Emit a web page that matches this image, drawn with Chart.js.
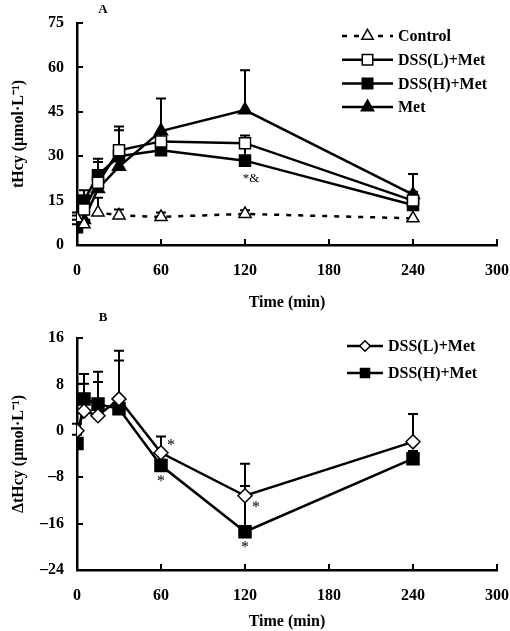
<!DOCTYPE html>
<html>
<head>
<meta charset="utf-8">
<script src="https://cdn.jsdelivr.net/npm/chart.js"></script>
<style>
  html, body { margin: 0; padding: 0; background: #fff; }
  #wrapA { position: absolute; left: 0; top: 0; width: 510px; height: 312px; }
  #wrapB { position: absolute; left: 0; top: 312px; width: 510px; height: 319px; }
</style>
</head>
<body>
<div id="wrapA"><canvas id="chartA" width="510" height="312"></canvas></div>
<div id="wrapB"><canvas id="chartB" width="510" height="319"></canvas></div>
<script>
// sampling times (min)
const times = [0, 5, 15, 30, 60, 120, 240];
const xTicks = [0, 60, 120, 180, 240, 300];

// panel A: tHcy (umol/L), mean and upper SD
const control = [9, 7, 11, 10, 9.5, 10.5, 9];
const controlErr = [1, 1, 5, 2, 1.5, 1.2, 0];
const dssL = [10, 12, 21, 32, 35, 34.4, 15];
const dssLErr = [1, 3, 7, 8, 3, 2.6, 3];
const dssH = [6, 15, 23.6, 30, 32, 28.5, 13.5];
const dssHErr = [1, 3.5, 5.5, 8.8, 2, 5, 4];
const met = [7.5, 8.5, 19, 26.5, 38.5, 45.6, 17];
const metErr = [1, 2, 4, 4, 11, 13.4, 7];
const yTicksA = [0, 15, 30, 45, 60, 75];

// panel B: delta tHcy
const dL = [0, 3.4, 2.6, 5.5, -3.8, -11.2, -1.9];
const dLErr = [1.2, 4.7, 5.8, 8.3, 2.8, 5.5, 4.8];
const dH = [-2.2, 5.5, 4.6, 3.8, -6, -17.4, -4.8];
const dHErr = [1.5, 4.3, 5.6, 8.3, 1, 7.9, 1.3];
const yTicksB = [-24, -16, -8, 0, 8, 16];

const FONT = "'Liberation Serif', 'Times New Roman', serif";
const bold16 = { family: FONT, size: 16, weight: "bold" };

function pts(ys) { return times.map((t, i) => ({ x: t, y: ys[i] })); }

function mkSet(label, ys, errs, style, fill, radius, dash) {
  return {
    label, data: pts(ys), errorBars: errs,
    borderColor: "#000", borderWidth: 2.5, borderDash: dash || [],
    pointStyle: style, pointRadius: radius, pointBackgroundColor: fill,
    pointBorderColor: "#000", pointBorderWidth: 1.5, tension: 0
  };
}

function drawMarker(ctx, style, fill, r, x, y) {
  ctx.save();
  ctx.beginPath();
  if (style === "rect") {
    const s = r * Math.SQRT1_2;
    ctx.rect(x - s, y - s, 2 * s, 2 * s);
  } else if (style === "triangle") {
    const w = r * Math.sqrt(3) / 2;
    ctx.moveTo(x, y - r); ctx.lineTo(x + w, y + r / 2); ctx.lineTo(x - w, y + r / 2); ctx.closePath();
  } else {
    ctx.moveTo(x, y - r); ctx.lineTo(x + r, y); ctx.lineTo(x, y + r); ctx.lineTo(x - r, y); ctx.closePath();
  }
  ctx.fillStyle = fill; ctx.fill();
  ctx.lineWidth = 1.5; ctx.strokeStyle = "#000"; ctx.stroke();
  ctx.restore();
}

const figPlugin = {
  id: "fig",
  beforeDatasetsDraw(chart) {
    const { ctx, chartArea, scales: { x, y } } = chart;
    ctx.save();
    ctx.strokeStyle = "#000"; ctx.lineWidth = 2;
    // inward tick marks
    ctx.beginPath();
    x.ticks.forEach(t => {
      const px = Math.round(x.getPixelForValue(t.value));
      ctx.moveTo(px, chartArea.bottom); ctx.lineTo(px, chartArea.bottom - 6);
    });
    y.ticks.forEach(t => {
      const py = Math.round(y.getPixelForValue(t.value));
      ctx.moveTo(chartArea.left, py); ctx.lineTo(chartArea.left + 6, py);
    });
    ctx.stroke();
    // error bars (upper SD)
    chart.data.datasets.forEach(ds => {
      ds.data.forEach((p, i) => {
        const e = ds.errorBars[i];
        if (!e) return;
        const px = x.getPixelForValue(p.x);
        const y0 = y.getPixelForValue(p.y), y1 = y.getPixelForValue(p.y + e);
        ctx.beginPath();
        ctx.moveTo(px, y0); ctx.lineTo(px, y1);
        ctx.moveTo(px - 5, y1); ctx.lineTo(px + 5, y1);
        ctx.stroke();
      });
    });
    ctx.restore();
  },
  afterDraw(chart) {
    const o = chart.options.plugins.fig;
    const { ctx, scales: { x, y } } = chart;
    ctx.save();
    ctx.fillStyle = "#000";
    ctx.font = "bold 13px " + FONT;
    ctx.textAlign = "center"; ctx.textBaseline = "middle";
    ctx.fillText(o.panel, 103, o.panelY);
    // legend
    chart.data.datasets.forEach((ds, i) => {
      const ly = o.legendY + i * o.legendStep;
      ctx.save();
      ctx.strokeStyle = "#000"; ctx.lineWidth = 2.5;
      ctx.setLineDash(ds.borderDash);
      ctx.beginPath(); ctx.moveTo(o.legendX1, ly); ctx.lineTo(o.legendX2, ly); ctx.stroke();
      ctx.restore();
      drawMarker(ctx, ds.pointStyle, ds.pointBackgroundColor, ds.pointRadius * o.legendScale, (o.legendX1 + o.legendX2) / 2, ly);
      ctx.font = "bold 16px " + FONT;
      ctx.textAlign = "left";
      ctx.fillText(ds.label, o.legendX2 + 5, ly + 1);
    });
    // significance marks
    o.marks.forEach(m => {
      const p = chart.data.datasets[m.set].data[m.idx];
      ctx.font = m.size + "px " + FONT;
      ctx.textAlign = "center";
      ctx.fillText(m.text, x.getPixelForValue(p.x) + m.dx, y.getPixelForValue(p.y) + m.dy);
    });
    ctx.restore();
  }
};

function axisCommon(ticksArr, min, max, fmt, gap) {
  return {
    type: "linear", min, max,
    afterBuildTicks: s => { s.ticks = ticksArr.map(v => ({ value: v })); },
    ticks: { color: "#000", font: bold16, callback: fmt, padding: 0 },
    grid: { drawOnChartArea: false, drawTicks: true, tickLength: gap, color: "rgba(0,0,0,0)" },
    border: { color: "#000", width: 2.5 }
  };
}

function makeChart(id, datasets, yTicks, yMin, yMax, yTitle, height, areaTop, areaBottom, fig) {
  const xAxis = axisCommon(xTicks, 0, 300, v => String(v), 16);
  xAxis.title = { display: true, text: "Time (min)", color: "#000", font: bold16, padding: { top: 0, bottom: 0 } };
  xAxis.afterFit = s => { s.height = height - areaBottom; };
  const yAxis = axisCommon(yTicks, yMin, yMax, v => (v < 0 ? "\u2013" + Math.abs(v) : String(v)), 13);
  yAxis.title = { display: true, text: yTitle, color: "#000", font: bold16, padding: { top: 9, bottom: 0 } };
  yAxis.afterFit = s => { s.width = 77; };
  return new Chart(document.getElementById(id), {
    type: "line",
    data: { datasets },
    options: {
      responsive: false, animation: false,
      layout: { padding: { top: areaTop, right: 13, left: 0, bottom: 0 } },
      scales: { x: xAxis, y: yAxis },
      plugins: { legend: { display: false }, tooltip: { enabled: false }, fig }
    },
    plugins: [figPlugin]
  });
}

makeChart("chartA", [
  mkSet("Control", control, controlErr, "triangle", "#fff", 7, [5, 7]),
  mkSet("DSS(L)+Met", dssL, dssLErr, "rect", "#fff", 7.8),
  mkSet("DSS(H)+Met", dssH, dssHErr, "rect", "#000", 7.8),
  mkSet("Met", met, metErr, "triangle", "#000", 7.5)
], yTicksA, 0, 75, "tHcy (\u03bcmol\u00b7L\u207b\u00b9)", 312, 23, 245, {
  panel: "A", panelY: 10, legendScale: 0.95,
  legendY: 36, legendStep: 23.7, legendX1: 342, legendX2: 393,
  marks: [{ set: 2, idx: 5, text: "*&", dx: 6, dy: 18, size: 13 }]
});

makeChart("chartB", [
  mkSet("DSS(L)+Met", dL, dLErr, "rectRot", "#fff", 7),
  mkSet("DSS(H)+Met", dH, dHErr, "rect", "#000", 8.5)
], yTicksB, -24, 16, "\u0394tHcy (\u03bcmol\u00b7L\u207b\u00b9)", 319, 26, 258, {
  panel: "B", panelY: 6, legendScale: 0.75,
  legendY: 34, legendStep: 27, legendX1: 347, legendX2: 383,
  marks: [
    { set: 0, idx: 4, text: "*", dx: 10, dy: -7, size: 16 },
    { set: 1, idx: 4, text: "*", dx: 0, dy: 16, size: 16 },
    { set: 0, idx: 5, text: "*", dx: 11, dy: 12, size: 16 },
    { set: 1, idx: 5, text: "*", dx: 0, dy: 16, size: 16 }
  ]
});
</script>
</body>
</html>
